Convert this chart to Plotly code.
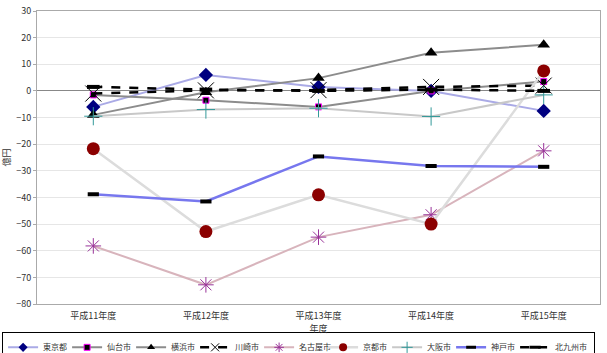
import copy
import plotly.graph_objects as go

years = ["平成11年度", "平成12年度", "平成13年度", "平成14年度", "平成15年度"]

tokyo = [-6, 6, 1.5, 0, -7.5]
sendai = [-1.5, -3.5, -6, 0, 3.5]
yokohama = [-9, -0.5, 4.8, 14.3, 17.3]
kawasaki = [-1, 0.2, 0.3, 1.5, 2]
nagoya = [-58.2, -72.8, -54.9, -46.5, -22.5]
kyoto = [-21.7, -52.8, -39, -50, 7.5]
osaka = [-9.5, -7, -6.5, -9.6, -1.5]
kobe = [-38.8, -41.5, -24.6, -28.2, -28.5]
kitakyushu = [1.5, 0.5, 0, 0.5, 0]

names = ["東京都", "仙台市", "横浜市", "川崎市", "名古屋市", "京都市", "大阪市", "神戸市", "北九州市"]
series = [tokyo, sendai, yokohama, kawasaki, nagoya, kyoto, osaka, kobe, kitakyushu]
legend_widths = [19, 19, 19, 19, 19, 19, 19, 19, 34]

styles = [
    dict(line=dict(color="#AAAAE6", width=2), marker=dict(symbol="diamond", size=11, color="#000080")),
    dict(line=dict(color="#8C8C8C", width=2), marker=dict(symbol="square", size=6, color="#000000", line=dict(color="#FF00FF", width=1))),
    dict(line=dict(color="#8C8C8C", width=2), marker=dict(symbol="triangle-up", size=11, color="#000000")),
    dict(line=dict(color="#000000", width=2.5, dash="dash"), marker=dict(symbol="x-thin-open", size=16, color="#000000", line=dict(color="#000000", width=1))),
    dict(line=dict(color="#D8B4BC", width=2), marker=dict(symbol="asterisk-open", size=13, color="#993399", line=dict(color="#993399", width=1))),
    dict(line=dict(color="#DCDCDC", width=2.5), marker=dict(symbol="circle", size=13, color="#8B0000")),
    dict(line=dict(color="#C8C8C8", width=2), marker=dict(symbol="cross-thin-open", size=13, color="#339999", line=dict(color="#339999", width=1))),
    dict(line=dict(color="#7777EE", width=2.5), marker=dict(symbol="line-ew-open", size=8, color="#000000", line=dict(color="#000000", width=4))),
    dict(line=dict(color="#000000", width=2.5, dash="dash"), marker=dict(symbol="line-ew-open", size=9, color="#000000", line=dict(color="#000000", width=4))),
]
legend_marker_sizes = [7, 6, 7, 8, 8, 8, 8, 7, 8]

fig = go.Figure()
for n, s, st in zip(names, series, styles):
    fig.add_trace(go.Scatter(x=years, y=s, name=n, mode="lines+markers", showlegend=False, **st))

# legend entries with smaller symbols
for n, st, lw, ms in zip(names, styles, legend_widths, legend_marker_sizes):
    lst = copy.deepcopy(st)
    lst["marker"]["size"] = ms
    if lst["marker"]["symbol"] == "line-ew-open":
        lst["marker"]["line"]["width"] = 3
    fig.add_trace(go.Scatter(x=[None], y=[None], name=n, mode="lines+markers",
                             legendwidth=lw, showlegend=True, **lst))

font = "Noto Sans CJK JP"
fig.update_layout(
    width=607, height=353,
    margin=dict(l=37, r=7, t=11, b=49, autoexpand=False),
    paper_bgcolor="white", plot_bgcolor="white",
    font=dict(family=font, size=10, color="#333333"),
    xaxis=dict(
        range=[-0.5, 4.5], showgrid=False, showline=True, linecolor="#AAAAAA",
        mirror=True, ticks="", tickfont=dict(size=9), ticklabelstandoff=3,
        title=dict(text="年度", font=dict(size=9), standoff=3),
    ),
    yaxis=dict(
        range=[-80, 30], dtick=10, showgrid=True, gridcolor="#E6E6E6",
        zeroline=True, zerolinecolor="#888888", zerolinewidth=1,
        showline=True, linecolor="#AAAAAA", mirror=True,
        ticks="outside", ticklen=3, tickcolor="#AAAAAA", tickfont=dict(size=9),
        title=dict(text="億円", font=dict(size=9), standoff=4),
    ),
    legend=dict(
        orientation="h", x=-0.062, xanchor="left", y=-0.095, yanchor="top",
        bordercolor="#000000", borderwidth=1, font=dict(size=8),
        itemwidth=30, tracegroupgap=0,
    ),
)

fig.write_html("out.html")
